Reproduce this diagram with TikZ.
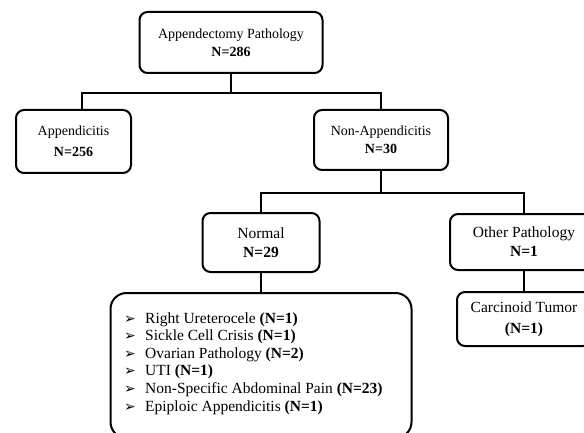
\documentclass[tikz,border=0pt]{standalone}
\usepackage{fontspec}
\setmainfont{Liberation Serif}
\newfontfamily\dingfont{DejaVu Sans}
\usetikzlibrary{positioning}
\newcommand{\itemarrow}{{\dingfont\fontsize{14}{14}\selectfont ➢}}

\begin{document}
\begin{tikzpicture}[
  x=1pt, y=-1pt,
  box/.style={draw, line width=2pt, rounded corners=8pt, align=center, inner sep=0pt, font=\fontsize{14}{18}\selectfont},
  lowbox/.style={box, font=\fontsize{15.5}{19}\selectfont},
  link/.style={line width=2pt},
  entry/.style={anchor=base west, inner sep=0pt, font=\fontsize{15.5}{17.6}\selectfont}
]
  \useasboundingbox (0,0) rectangle (584,433);
  \clip (0,0) rectangle (584,433);

  \node[box, minimum width=183pt, minimum height=61pt] (total) at (231,42.5) {Appendectomy Pathology\\\textbf{N=286}};
  \node[box, minimum width=115pt, minimum height=63pt] (app) at (73.5,141.5) {Appendicitis\\[3pt]\textbf{N=256}};
  \node[box, minimum width=134pt, minimum height=60pt] (nonapp) at (381,140) {Non-Appendicitis\\\textbf{N=30}};

  \node[lowbox, minimum width=117pt, minimum height=59pt] (normal) at (261,242.5) {Normal\\\textbf{N=29}};
  \node[lowbox, minimum width=148pt, minimum height=56pt] (other) at (524,242) {Other Pathology\\\textbf{N=1}};
  \node[lowbox, minimum width=134pt, minimum height=54pt] (carcinoid) at (524,319) {Carcinoid Tumor\\[2pt]\textbf{(N=1)}};
  \node[box, rounded corners=16pt, minimum width=301pt, minimum height=145pt] (causes) at (261,365.5) {};

  % list of normal findings
  \foreach \entrytext [count=\i] in {
      {Right Ureterocele \textbf{(N=1)}},
      {Sickle Cell Crisis \textbf{(N=1)}},
      {Ovarian Pathology \textbf{(N=2)}},
      {UTI \textbf{(N=1)}},
      {Non-Specific Abdominal Pain \textbf{(N=23)}},
      {Epiploic Appendicitis \textbf{(N=1)}}}
    \node[entry] (item\i) at (124,{323+17.6*(\i-1)}) {\makebox[21pt][l]{\itemarrow}\entrytext};

  \draw[link] (total.south) -- ++(0,19) -| ([xshift=8pt]app.north);
  \draw[link] (total.south) -- ++(0,19) -| (nonapp.north);
  \draw[link] (nonapp.south) -- ++(0,22) -| (normal.north);
  \draw[link] (nonapp.south) -- ++(0,22) -| (other.north);
  \draw[link] (normal.south) -- (causes.north);
  \draw[link] (other.south) -- (carcinoid.north);
\end{tikzpicture}
\end{document}
